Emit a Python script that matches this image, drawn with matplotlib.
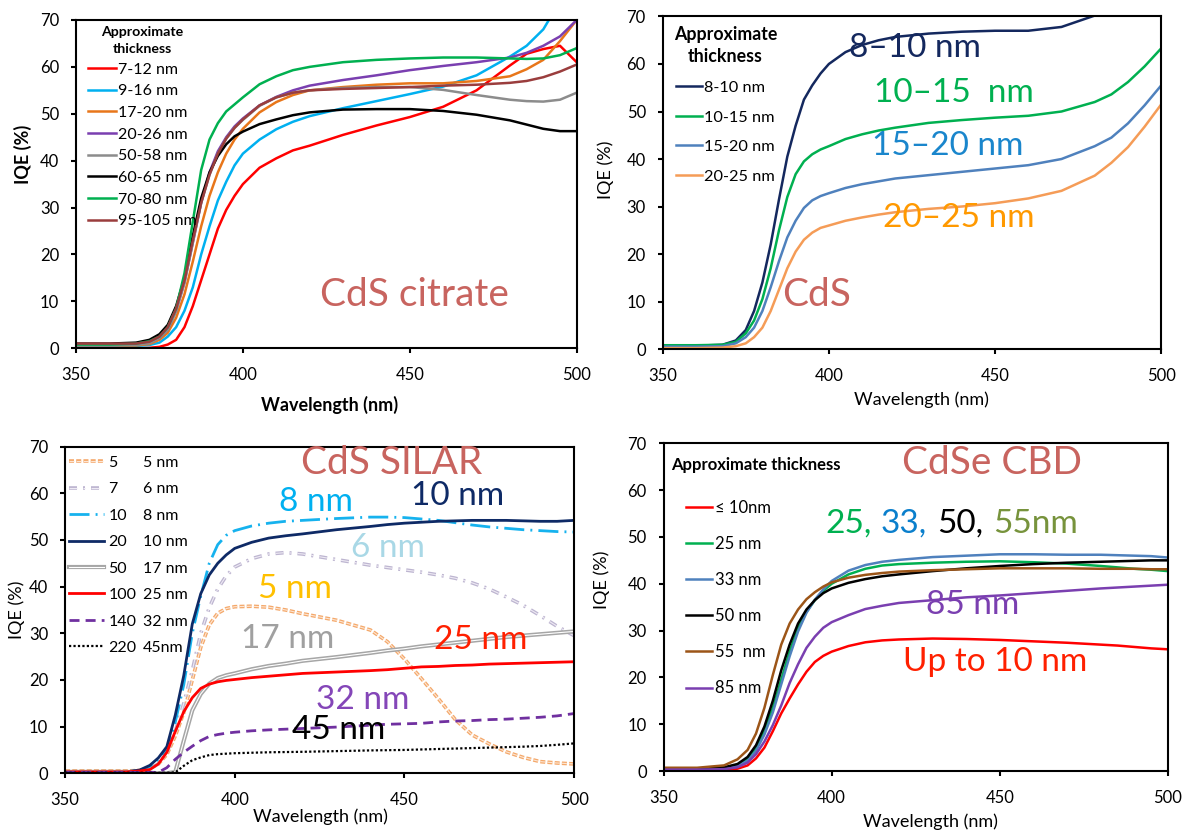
import numpy as np
import matplotlib
matplotlib.use("Agg")
import matplotlib.pyplot as plt
import matplotlib.patheffects as pe

plt.rcParams['font.family'] = ['Lato', 'DejaVu Sans']

nan = np.nan
# ---------------- data ----------------
wl = [350, 360, 368, 372, 375, 377.5, 380, 382.5, 385, 387.5, 390, 392.5, 395, 397.5,
      400, 405, 410, 415, 420, 430, 440, 450, 460, 470, 480, 485, 490, 495, 500]
wl_silar = [350, 360, 368, 372, 375, 377.5, 380, 382.5, 385, 387.5, 390, 392.5, 395, 397.5,
            400, 405, 410, 415, 420, 430, 440, 445, 450, 455, 460, 465, 470, 475, 480,
            485, 490, 495, 500]

# Panel 1: CdS citrate
cit_labels = ['7-12 nm', '9-16 nm', '17-20 nm', '20-26 nm', '50-58 nm', '60-65 nm', '70-80 nm', '95-105 nm']
cit_7_12 = [0, 0, 0, 0.1, 0.3, 0.8, 1.8, 4.5, 9, 14.5, 20, 25.5, 29.5, 32.5, 35, 38.5, 40.5, 42.2, 43.2,
            45.5, 47.5, 49.3, 51.5, 55, 60.3, 62.8, 63.8, 64.5, 61]
cit_9_16 = [0.5, 0.5, 0.5, 0.7, 1.2, 2.5, 4.5, 8, 13, 20, 26, 31.5, 35.5, 39, 41.5, 44.5, 46.7, 48.3, 49.5,
            51.2, 52.7, 54.2, 55.8, 58.2, 62.2, 64.5, 68, 74, nan]
cit_17_20 = [0.5, 0.5, 0.6, 0.9, 1.8, 3.3, 6.5, 11.5, 18.5, 26, 32.5, 37.5, 41.5, 44.5, 46.8, 50.3, 52.5,
             54, 55, 55.7, 56.2, 56.5, 56.5, 57, 58, 59.5, 61.5, 65.5, 70]
cit_20_26 = [0.8, 0.8, 0.9, 1.2, 2.2, 4, 8, 14, 22.5, 31, 37.5, 42, 45, 47.3, 49, 51.8, 53.6, 55, 56,
             57.2, 58.2, 59.3, 60.2, 61, 62, 63, 64.5, 66.5, 70]
cit_50_58 = [0.5, 0.5, 0.7, 1.1, 2.2, 4, 8, 14, 22.5, 31, 37, 41.5, 44.7, 47, 48.7, 51.7, 53.5, 54.5, 55,
             55.5, 55.7, 55.7, 55.1, 54, 53, 52.7, 52.6, 53, 54.5]
cit_60_65 = [1, 1, 1.2, 1.8, 3, 5, 9, 15, 24, 32, 37.5, 41, 43.5, 45.2, 46.2, 47.8, 48.8, 49.7, 50.3,
             50.9, 51, 51, 50.6, 49.8, 48.6, 47.7, 46.8, 46.3, 46.3]
cit_70_80 = [0.8, 0.8, 1, 1.5, 2.5, 4.5, 8.5, 16, 27, 38, 44.5, 48, 50.5, 52, 53.5, 56.3, 58, 59.3, 60,
             61, 61.5, 61.8, 62, 62, 61.8, 61.7, 61.8, 62.5, 64]
cit_95_105 = [1, 1, 1, 1.4, 2.5, 4.5, 8.5, 14.5, 23, 31, 37, 41.5, 44.7, 47, 48.8, 51.8, 53.5, 54.5, 55,
              55.3, 55.5, 55.7, 56, 56.2, 56.6, 57, 57.8, 59, 60.5]

# Panel 2: CdS
cds_labels = ['8-10 nm', '10-15 nm', '15-20 nm', '20-25 nm']
cds_8_10 = [0.7, 0.7, 0.9, 1.8, 4, 8, 14, 22, 31.5, 40.5, 47, 52.5, 55.5, 58, 60, 62.5, 64, 65, 65.7,
            66.4, 66.8, 67, 67, 67.8, 70.2, 72.5, nan, nan, nan]
cds_10_15 = [0.8, 0.8, 0.9, 1.5, 3.3, 6, 10.5, 17, 25, 32, 36.8, 39.5, 41, 42, 42.7, 44.2, 45.2, 46, 46.6,
             47.6, 48.2, 48.7, 49.1, 50, 52, 53.6, 56.2, 59.5, 63.3]
cds_15_20 = [0.5, 0.5, 0.6, 1.2, 2.5, 4.5, 8, 13, 18.5, 23.5, 27, 29.7, 31.3, 32.2, 32.8, 33.9, 34.7, 35.3,
             35.9, 36.6, 37.3, 38, 38.7, 40, 42.7, 44.5, 47.5, 51.3, 55.5]
cds_20_25 = [0.2, 0.2, 0.3, 0.6, 1.2, 2.5, 4.5, 8, 12.5, 17, 20.5, 23, 24.5, 25.5, 26, 27, 27.7, 28.3, 28.8,
             29.5, 30, 30.7, 31.7, 33.3, 36.5, 39.2, 42.5, 46.8, 51.5]

# Panel 3: CdS SILAR (cycles, thickness)
silar_cycles = ['5', '7', '10', '20', '50', '100', '140', '220']
silar_thick = ['5 nm', '6 nm', '8 nm', '10 nm', '17 nm', '25 nm', '32 nm', '45nm']
sil_5 = [0.5, 0.5, 0.5, 0.6, 1, 2, 4, 8, 13, 20, 27, 31.8, 34.3, 35.3, 35.7, 35.8, 35.6, 35, 34.2, 32.8,
         30.7, 28.2, 24.5, 20.3, 16, 11.5, 8.2, 6.3, 4.6, 3.4, 2.5, 2.2, 2]
sil_7 = [0.3, 0.3, 0.3, 0.5, 1, 2, 4.5, 9, 15, 22, 30, 35.5, 39.5, 42.3, 44.2, 46, 47, 47.3, 47, 45.8,
         44.6, 44.1, 43.6, 43.1, 42.5, 41.8, 40.8, 39.5, 37.8, 36, 33.8, 31.5, 29.5]
sil_10 = [0.3, 0.3, 0.3, 0.6, 1.5, 3, 5, 11, 19, 30, 38, 45, 49, 51, 52, 53, 53.6, 54, 54.2, 54.6,
          54.9, 54.9, 54.8, 54.5, 54.2, 53.7, 53.2, 52.8, 52.5, 52.2, 52, 51.8, 51.7]
sil_20 = [0.3, 0.3, 0.3, 0.7, 1.7, 3.3, 5.7, 12.5, 21, 32, 38.5, 42.5, 45, 46.8, 48.2, 49.5, 50.4, 50.9,
          51.3, 52.2, 52.9, 53.3, 53.6, 53.8, 54, 54.1, 54.2, 54.2, 54.2, 54.1, 54, 54, 54.2]
sil_50 = [0.3, 0.3, 0.3, 0.2, 0.1, 0, 0, 0.3, 7, 13.5, 17, 19.2, 20.4, 21, 21.4, 22.3, 23, 23.5, 24.1,
          24.9, 25.8, 26.3, 26.7, 27.2, 27.6, 28, 28.4, 28.8, 29.2, 29.5, 29.8, 30.1, 30.4]
sil_100 = [0.3, 0.3, 0.3, 0.5, 0.8, 2, 4.5, 9, 13.2, 16.2, 18.2, 19.1, 19.6, 19.9, 20.1, 20.5, 20.8, 21.1,
           21.4, 21.7, 22, 22.2, 22.5, 22.8, 22.9, 23.1, 23.2, 23.4, 23.5, 23.6, 23.7, 23.8, 23.9]
sil_140 = [0.2, 0.2, 0.2, 0.2, 0.2, 0.2, 1.2, 3, 4.5, 5.8, 7, 7.9, 8.3, 8.6, 8.8, 9.1, 9.3, 9.45, 9.6,
           9.9, 10.3, 10.5, 10.6, 10.7, 11, 11.2, 11.3, 11.5, 11.6, 11.8, 12, 12.3, 12.8]
sil_220 = [0.1, 0.1, 0.1, 0.1, 0.1, 0.1, 0.1, 0.2, 1.6, 2.8, 3.4, 3.9, 4.1, 4.2, 4.3, 4.4, 4.5, 4.55, 4.6,
           4.75, 4.9, 4.95, 5, 5.1, 5.2, 5.3, 5.4, 5.5, 5.6, 5.7, 5.85, 6.1, 6.4]

# Panel 4: CdSe CBD
cdse_labels = ['\u2264 10nm', '25 nm', '33 nm', '50 nm', '55  nm', '85 nm']
cdse_10 = [0.3, 0.3, 0.3, 0.5, 1.2, 2.7, 5, 8.5, 12.3, 15.5, 18.5, 21.2, 23.3, 24.6, 25.5, 26.7, 27.5,
           27.9, 28.1, 28.3, 28.2, 28, 27.7, 27.4, 27, 26.8, 26.5, 26.2, 26]
cdse_25 = [0.5, 0.5, 0.6, 1.2, 2.5, 4.8, 8.5, 13.5, 19.5, 25.5, 30.5, 34, 36.5, 38.5, 40, 42, 43.2, 43.9,
           44.2, 44.5, 44.7, 44.8, 44.6, 44.3, 43.8, 43.5, 43.2, 43, 42.7]
cdse_33 = [0.5, 0.5, 0.6, 1.1, 2.2, 4.3, 7.8, 12.5, 18.5, 24.5, 29.8, 33.8, 36.6, 38.8, 40.6, 42.8, 44,
           44.7, 45.1, 45.7, 46, 46.3, 46.3, 46.2, 46.2, 46.1, 46, 45.9, 45.6]
cdse_50 = [0.5, 0.5, 0.8, 1.5, 3, 5.5, 9.5, 15, 21.5, 27, 31.5, 34.5, 36.5, 38, 39, 40.2, 41, 41.6, 42,
           42.7, 43.3, 43.8, 44.2, 44.5, 44.7, 44.8, 44.9, 45, 45]
cdse_55 = [0.7, 0.7, 1.2, 2.5, 4.5, 8, 13.5, 20.5, 27, 31.5, 34.5, 36.7, 38.2, 39.4, 40.3, 41.3, 41.9,
           42.3, 42.6, 42.9, 43.1, 43.3, 43.3, 43.3, 43.2, 43.2, 43.2, 43.1, 43.1]
cdse_85 = [0.3, 0.3, 0.4, 0.8, 1.8, 3.6, 6.3, 9.8, 14, 18.8, 22.8, 26.3, 28.7, 30.6, 31.8, 33.3, 34.6,
           35.3, 35.9, 36.5, 37.1, 37.5, 38, 38.5, 39, 39.2, 39.4, 39.6, 39.8]

xticks = [350, 400, 450, 500]
yticks = [0, 10, 20, 30, 40, 50, 60, 70]

TITLE_C = '#c8645f'
LW = 1.8

fig = plt.figure(figsize=(11.91, 8.33), dpi=100)
ax1 = fig.add_axes([0.0638, 0.5819, 0.4204, 0.3941])
ax2 = fig.add_axes([0.5564, 0.5810, 0.4186, 0.3992])
ax3 = fig.add_axes([0.0546, 0.0717, 0.4274, 0.3921])
ax4 = fig.add_axes([0.5571, 0.0744, 0.4236, 0.3934])


def style(ax, bold, xlab_xy, ylab_xy):
    ax.set_xlim(350, 500)
    ax.set_ylim(0, 70)
    ax.set_xticks(xticks)
    ax.set_yticks(yticks)
    ax.tick_params(axis='both', direction='out', length=3.6, width=1.5, labelsize=12)
    ax.tick_params(axis='x', pad=10)
    ax.tick_params(axis='y', pad=8.5)
    for s in ax.spines.values():
        s.set_linewidth(1.5)
    w = 'bold' if bold else 'normal'
    ax.set_xlabel('Wavelength (nm)', fontsize=13, fontweight=w, va='center')
    ax.xaxis.set_label_coords(*xlab_xy)
    ax.set_ylabel('IQE (%)', fontsize=13, fontweight=w, va='center')
    ax.yaxis.set_label_coords(*ylab_xy)


# ---------------- Panel 1 ----------------
cit_series = [cit_7_12, cit_9_16, cit_17_20, cit_20_26, cit_50_58, cit_60_65, cit_70_80, cit_95_105]
cit_colors = ['#ff0000', '#00b0f0', '#e8761a', '#7a3fb0', '#8c8c8c', '#000000', '#00b050', '#9a3d3d']
for ys, c, lab in zip(cit_series, cit_colors, cit_labels):
    ax1.plot(wl, ys, color=c, lw=LW, label=lab)
style(ax1, True, (0.507, -0.173), (-0.106, 0.592))
leg1 = ax1.legend(loc='upper left', bbox_to_anchor=(0.024, 0.982), borderaxespad=0, borderpad=0,
                  frameon=False, fontsize=11.5, title='Approximate\nthickness',
                  title_fontproperties={'weight': 'bold', 'size': 10.2},
                  handlelength=1.75, handletextpad=0.12, labelspacing=0.47)
leg1.get_title().set_linespacing(1.5)
leg1.get_title().set_multialignment('center')
ax1.text(451.4, 9.0, 'CdS citrate', color=TITLE_C, fontsize=28, ha='center', va='baseline')

# ---------------- Panel 2 ----------------
cds_series = [cds_8_10, cds_10_15, cds_15_20, cds_20_25]
cds_colors = ['#14285e', '#00b050', '#4f81bd', '#f59c57']
for ys, c, lab in zip(cds_series, cds_colors, cds_labels):
    ax2.plot(wl, ys, color=c, lw=LW, label=lab)
style(ax2, False, (0.52, -0.153), (-0.114, 0.538))
leg2 = ax2.legend(loc='upper left', bbox_to_anchor=(0.0227, 0.972), borderaxespad=0, borderpad=0,
                  frameon=False, fontsize=11.8, title='Approximate\nthickness',
                  title_fontproperties={'weight': 'bold', 'size': 12.8},
                  handlelength=1.55, handletextpad=0.15, labelspacing=0.92)
leg2.get_title().set_linespacing(1.4)
leg2.get_title().set_multialignment('center')
ax2.text(426, 61.5, '8\u201310 nm', color='#14285e', fontsize=24, ha='center', va='baseline')
ax2.text(437.7, 52.0, '10\u201315  nm', color='#00b050', fontsize=24, ha='center', va='baseline')
ax2.text(435.7, 40.8, '15\u201320 nm', color='#1a86cc', fontsize=24, ha='center', va='baseline')
ax2.text(439, 25.6, '20\u201325 nm', color='#ff9900', fontsize=24, ha='center', va='baseline')
ax2.text(396.2, 9.0, 'CdS', color=TITLE_C, fontsize=28, ha='center', va='baseline')

# ---------------- Panel 3 ----------------
sil_series = [sil_5, sil_7, sil_10, sil_20, sil_50, sil_100, sil_140, sil_220]
hollow_orange = [pe.Stroke(linewidth=2.6, foreground='#f4a86a'), pe.Normal()]
hollow_lav = [pe.Stroke(linewidth=2.6, foreground='#bdb5d0'), pe.Normal()]
hollow_gray = [pe.Stroke(linewidth=3.0, foreground='#a6a6a6'), pe.Normal()]
sil_styles = [
    dict(color='#fde6d4', lw=0.8, ls=(0, (4.5, 2.0)), path_effects=hollow_orange),
    dict(color='#eeeaf4', lw=0.8, ls=(0, (7.2, 5.4, 1.8, 5.4)), path_effects=hollow_lav),
    dict(color='#16b2ee', lw=2.0, ls=(0, (7.2, 2.2, 0.7, 2.2))),
    dict(color='#0e2a66', lw=2.0, ls='-'),
    dict(color='white', lw=0.8, ls='-', path_effects=hollow_gray),
    dict(color='#ff0000', lw=2.0, ls='-'),
    dict(color='#7030a0', lw=2.0, ls=(0, (3.6, 2.2))),
    dict(color='#000000', lw=1.6, ls=(0, (1, 1))),
]
for ys, st, lab in zip(sil_series, sil_styles, silar_cycles):
    ax3.plot(wl_silar, ys, label=lab, **st)
style(ax3, False, (0.502, -0.133), (-0.094, 0.5))
leg3 = ax3.legend(loc='upper left', bbox_to_anchor=(0.008, 0.973), borderaxespad=0, borderpad=0,
                  frameon=False, fontsize=11.5, handlelength=2.2, handletextpad=0.25, labelspacing=0.77)
for t, s in zip(leg3.get_texts(), silar_thick):
    ax3.annotate(s, xy=(0.1532, 0.5), xycoords=('axes fraction', t), fontsize=11.5,
                 ha='left', va='center', zorder=6)
ax3.text(446.3, 64.1, 'CdS SILAR', color=TITLE_C, fontsize=28, ha='center', va='baseline')
ax3.text(423.9, 56.3, '8 nm', color='#00b0f0', fontsize=24, ha='center', va='baseline')
ax3.text(465.8, 57.5, '10 nm', color='#0e2a66', fontsize=24, ha='center', va='baseline')
ax3.text(445.3, 46.3, '6 nm', color='#a9d8e6', fontsize=24, ha='center', va='baseline')
ax3.text(417.7, 37.6, '5 nm', color='#ffc000', fontsize=24, ha='center', va='baseline')
ax3.text(415.7, 26.9, '17 nm', color='#a0a0a0', fontsize=24, ha='center', va='baseline')
ax3.text(472.5, 26.7, '25 nm', color='#ff2000', fontsize=24, ha='center', va='baseline')
ax3.text(437.8, 13.8, '32 nm', color='#8446b8', fontsize=24, ha='center', va='baseline')
ax3.text(430.6, 7.3, '45 nm', color='#000000', fontsize=24, ha='center', va='baseline')

# ---------------- Panel 4 ----------------
cdse_series = [cdse_10, cdse_25, cdse_33, cdse_50, cdse_55, cdse_85]
cdse_colors = ['#ff0000', '#00b050', '#4f81bd', '#000000', '#9c5518', '#7a3fb0']
for ys, c, lab in zip(cdse_series, cdse_colors, cdse_labels):
    ax4.plot(wl, ys, color=c, lw=LW, label=lab)
style(ax4, False, (0.530, -0.156), (-0.122, 0.583))
leg4 = ax4.legend(loc='upper left', bbox_to_anchor=(0.045, 0.8285), borderaxespad=0, borderpad=0,
                  frameon=False, fontsize=12, handlelength=1.55, handletextpad=0.18, labelspacing=1.21)
ax4.text(0.0149, 0.934, 'Approximate thickness', transform=ax4.transAxes, fontsize=12,
         fontweight='bold', ha='left', va='center')
ax4.text(447.7, 63.5, 'CdSe CBD', color=TITLE_C, fontsize=28, ha='center', va='baseline')
pieces = [('25,', '#00b050'), ('33,', '#0a7fcc'), ('50,', '#000000'), ('55nm', '#77933c')]
prev = ax4.text(398.0, 50.9, pieces[0][0], color=pieces[0][1], fontsize=24, ha='left', va='baseline')
for s, c in pieces[1:]:
    prev = ax4.annotate(s, xy=(1, 0), xycoords=prev, xytext=(7, 0), textcoords='offset points',
                        color=c, fontsize=24, ha='left', va='bottom')
ax4.text(442, 33.6, '85 nm', color='#7a3fb0', fontsize=24, ha='center', va='baseline')
ax4.text(448.5, 21.3, 'Up to 10 nm', color='#ff2000', fontsize=24, ha='center', va='baseline')

fig.canvas.draw()
fig.savefig('out.png', dpi=100)
